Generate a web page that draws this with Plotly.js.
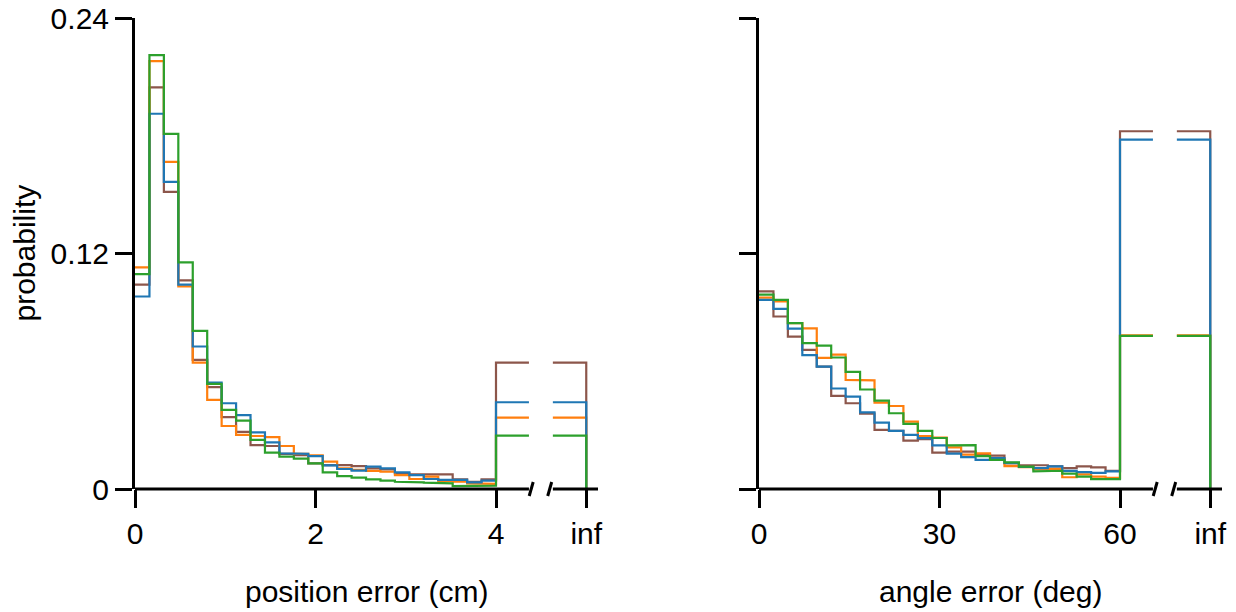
<!DOCTYPE html>
<html><head><meta charset="utf-8">
<script src="https://cdn.plot.ly/plotly-3.0.1.min.js"></script>
<style>html,body{margin:0;padding:0;background:#fff}</style>
</head><body><div id="chart" style="width:1236px;height:612px"></div>
<script>
// ---- data ----
const posBinCount = 25, posMax = 4, posInfAt = 5;
const angBinCount = 25, angMax = 60, angInfAt = 75;
const posTickVals = [0, 2, 4, 5];
const posTickText = ['0', '2', '4', 'inf'];
const angTickVals = [0, 30, 60, 75];
const angTickText = ['0', '30', '60', 'inf'];
const yTickVals = [0, 0.12, 0.24];
const yTickText = ['0', '0.12', '0.24'];

const posBrown  = [0.1041,0.2047,0.1514,0.1063,0.0658,0.0519,0.0366,0.0291,0.0224,0.0219,0.0179,0.0173,0.0131,0.0122,0.0122,0.0117,0.0105,0.0100,0.0080,0.0075,0.0075,0.0075,0.0049,0.0037,0.0049];
const posOrange = [0.1129,0.2180,0.1667,0.1032,0.0644,0.0454,0.0321,0.0276,0.0270,0.0264,0.0219,0.0179,0.0172,0.0139,0.0105,0.0097,0.0092,0.0088,0.0071,0.0051,0.0063,0.0041,0.0037,0.0029,0.0026];
const posBlue   = [0.0981,0.1912,0.1565,0.1041,0.0726,0.0542,0.0437,0.0376,0.0289,0.0238,0.0182,0.0179,0.0168,0.0120,0.0102,0.0094,0.0114,0.0105,0.0085,0.0071,0.0051,0.0046,0.0046,0.0034,0.0043];
const posGreen  = [0.1095,0.2211,0.1810,0.1155,0.0806,0.0536,0.0403,0.0348,0.0250,0.0185,0.0165,0.0155,0.0131,0.0085,0.0066,0.0058,0.0049,0.0043,0.0037,0.0034,0.0032,0.0029,0.0015,0.0015,0.0017];
const posInf = {brown: 0.0644, orange: 0.0364, blue: 0.0442, green: 0.0272};

const angBrown  = [0.1007,0.0879,0.0776,0.0709,0.0624,0.0475,0.0437,0.0384,0.0301,0.0296,0.0247,0.0254,0.0185,0.0190,0.0190,0.0175,0.0170,0.0130,0.0121,0.0121,0.0115,0.0106,0.0115,0.0110,0.0093];
const angOrange = [0.0975,0.0956,0.0845,0.0818,0.0668,0.0685,0.0556,0.0554,0.0440,0.0423,0.0343,0.0270,0.0262,0.0212,0.0175,0.0182,0.0152,0.0117,0.0111,0.0100,0.0103,0.0060,0.0075,0.0063,0.0057];
const angBlue   = [0.0964,0.0918,0.0817,0.0682,0.0624,0.0512,0.0471,0.0390,0.0338,0.0296,0.0276,0.0259,0.0222,0.0180,0.0162,0.0148,0.0157,0.0133,0.0112,0.0106,0.0115,0.0092,0.0086,0.0082,0.0090];
const angGreen  = [0.0990,0.0964,0.0845,0.0743,0.0731,0.0670,0.0597,0.0507,0.0450,0.0386,0.0332,0.0296,0.0260,0.0222,0.0224,0.0168,0.0148,0.0136,0.0114,0.0090,0.0093,0.0078,0.0063,0.0050,0.0050];
const angInf = {brown: 0.1823, orange: 0.0783, blue: 0.1780, green: 0.0780};

const colors = {brown: '#8c564b', orange: '#ff7f0e', blue: '#1f77b4', green: '#2ca02c'};
const order = ['brown', 'orange', 'blue', 'green'];
const posData = {brown: posBrown, orange: posOrange, blue: posBlue, green: posGreen};
const angData = {brown: angBrown, orange: angOrange, blue: angBlue, green: angGreen};

// gap inside the "inf" bin (fraction of the segment between max and inf)
const gapA = 0.365, gapB = 0.63;
const slashA = 0.39, slashB = 0.595;

function stepPath(max, nb, vals, vinf, infAt) {
  const w = max / nb;
  const xs = [], ys = [];
  for (let i = 0; i < nb; i++) { xs.push(i * w, (i + 1) * w); ys.push(vals[i], vals[i]); }
  const g0 = max + gapA * (infAt - max), g1 = max + gapB * (infAt - max);
  xs.push(max, g0, null, g1, infAt, infAt);
  ys.push(vinf, vinf, null, vinf, vinf, 0);
  return {xs, ys};
}

const traces = [];
order.forEach(k => {
  const p = stepPath(posMax, posBinCount, posData[k], posInf[k], posInfAt);
  traces.push({x: p.xs, y: p.ys, xaxis: 'x', yaxis: 'y', mode: 'lines', line: {color: colors[k], width: 2.2}, hoverinfo: 'skip', connectgaps: false});
});
order.forEach(k => {
  const p = stepPath(angMax, angBinCount, angData[k], angInf[k], angInfAt);
  traces.push({x: p.xs, y: p.ys, xaxis: 'x2', yaxis: 'y2', mode: 'lines', line: {color: colors[k], width: 2.2}, hoverinfo: 'skip', connectgaps: false});
});

const FONT = {family: 'Liberation Sans, Arial, sans-serif', size: 30, color: '#000'};
const L = 135, R = 1222, T = 18, B = 489;
const W = 1236, H = 612;
const leftEnd = 598, rightStart = 759;
const posRange = [0, (leftEnd - L) / ((496 - L) / posMax)];
const angRange = [0, (R - rightStart) / ((1120 - rightStart) / angMax)];

function xax(domain, range, tv, tt) {
  return {domain, range, tickvals: tv, ticktext: tt, ticks: 'outside', ticklen: 18, tickwidth: 3, tickcolor: '#000',
    showline: false, showgrid: false, zeroline: false, tickfont: FONT, fixedrange: true};
}
function yax(anchor, showLabels) {
  return {anchor, range: [0, 0.24], tickvals: yTickVals, ticktext: yTickText, showticklabels: showLabels,
    ticks: 'outside', ticklen: 17, tickwidth: 3, tickcolor: '#000', showline: true, linewidth: 3, linecolor: '#000',
    showgrid: false, zeroline: false, tickfont: FONT, fixedrange: true};
}

const shapes = [];
function axisWithBreak(xref, max, infAt, rangeEnd) {
  const g0 = max + gapA * (infAt - max), g1 = max + gapB * (infAt - max);
  const ln = {color: '#000', width: 3};
  shapes.push({type: 'line', xref, yref: 'paper', x0: 0, x1: g0, y0: 0, y1: 0, line: ln, layer: 'above'});
  shapes.push({type: 'line', xref, yref: 'paper', x0: g1, x1: rangeEnd, y0: 0, y1: 0, line: ln, layer: 'above'});
  [slashA, slashB].forEach(f => {
    shapes.push({type: 'line', xref, yref: 'paper', xsizemode: 'pixel', ysizemode: 'pixel',
      xanchor: max + f * (infAt - max), yanchor: 0, x0: -2, x1: 2, y0: -7, y1: 7, line: ln, layer: 'above'});
  });
}
axisWithBreak('x', posMax, posInfAt, posRange[1]);
axisWithBreak('x2', angMax, angInfAt, angRange[1]);

const pw = R - L, ph = B - T;
const layout = {
  width: W, height: H,
  margin: {l: L, r: W - R, t: T, b: H - B, pad: 0},
  paper_bgcolor: '#fff', plot_bgcolor: '#fff',
  showlegend: false, font: FONT,
  xaxis: Object.assign(xax([0, (leftEnd - L) / pw], posRange, posTickVals, posTickText), {anchor: 'y'}),
  xaxis2: Object.assign(xax([(rightStart - L) / pw, 1], angRange, angTickVals, angTickText), {anchor: 'y2'}),
  yaxis: yax('x', true),
  yaxis2: yax('x2', false),
  shapes,
  annotations: [
    {text: 'probability', textangle: -90, xref: 'paper', yref: 'paper', x: (24 - L) / pw, y: 0.5, xanchor: 'center', yanchor: 'middle', showarrow: false, font: FONT},
    {text: 'position error (cm)', xref: 'paper', yref: 'paper', x: ((L + leftEnd) / 2 - L) / pw, y: (B - 591) / ph, xanchor: 'center', yanchor: 'middle', showarrow: false, font: FONT},
    {text: 'angle error (deg)', xref: 'paper', yref: 'paper', x: ((rightStart + R) / 2 - L) / pw, y: (B - 591) / ph, xanchor: 'center', yanchor: 'middle', showarrow: false, font: FONT}
  ]
};
Plotly.newPlot('chart', traces, layout, {staticPlot: true, displayModeBar: false});
</script></body></html>
